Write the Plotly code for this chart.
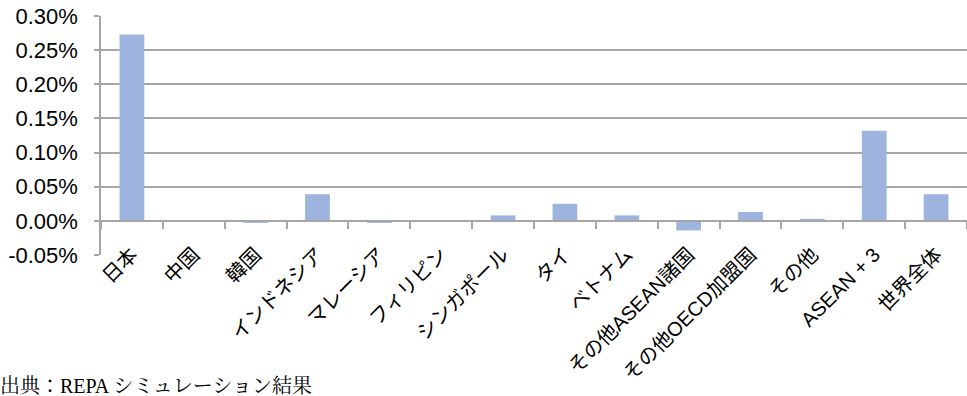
import plotly.graph_objects as go

categories = ["日本", "中国", "韓国", "インドネシア", "マレーシア", "フィリピン", "シンガポール",
              "タイ", "ベトナム", "その他ASEAN諸国", "その他OECD加盟国", "その他", "ASEAN + 3", "世界全体"]
values = [0.273, 0.0, -0.003, 0.039, -0.003, 0.0, 0.008,
          0.025, 0.008, -0.014, 0.013, 0.003, 0.132, 0.039]
y_tick_values = [-0.05, 0.0, 0.05, 0.10, 0.15, 0.20, 0.25, 0.30]
y_tick_labels = ["-0.05%", "0.00%", "0.05%", "0.10%", "0.15%", "0.20%", "0.25%", "0.30%"]
source_note = "出典：REPA シミュレーション結果"

W, H = 967, 396
ML, MR, MT, MB = 101, 0, 16, 141
plot_h = H - MT - MB
y_min, y_max = y_tick_values[0], y_tick_values[-1]
zero_frac = (0 - y_min) / (y_max - y_min)
label_lift = 17 / plot_h

grid = "#a6a6a6"
bar_color = "#9db5de"

fig = go.Figure()
fig.add_trace(go.Bar(x=categories, y=values, marker=dict(color=bar_color, line=dict(width=0)),
                     width=0.4, hoverinfo="x+y"))
# invisible trace to carry the zero-crossing category axis
fig.add_trace(go.Bar(x=categories, y=[0] * len(categories), xaxis="x2", yaxis="y",
                     marker=dict(color="rgba(0,0,0,0)"), hoverinfo="skip", showlegend=False))

fig.update_layout(
    width=W, height=H,
    margin=dict(l=ML, r=MR, t=MT, b=MB, pad=0),
    paper_bgcolor="white", plot_bgcolor="white",
    showlegend=False, barmode="overlay",
    font=dict(family="Liberation Sans, Noto Sans CJK JP", color="black"),
    xaxis=dict(
        type="category", range=[-0.5, len(categories) - 0.5],
        anchor="free", position=label_lift,
        tickangle=-45, tickfont=dict(size=20, family="Liberation Sans, Noto Sans CJK JP"),
        showgrid=False, showline=False, ticks="", automargin=False,
    ),
    xaxis2=dict(
        type="category", overlaying="x", anchor="free", position=zero_frac, side="bottom",
        range=[-0.5, len(categories) - 0.5], matches="x",
        showticklabels=False, showgrid=False, showline=True, linecolor=grid, linewidth=1.5,
        ticks="outside", tickson="boundaries", ticklen=7, tickcolor=grid, tickwidth=1.5,
    ),
    yaxis=dict(
        range=[y_min, y_max], tickmode="array", tickvals=y_tick_values, ticktext=y_tick_labels,
        tickfont=dict(size=22, family="Liberation Sans"), ticklabelstandoff=12,
        showgrid=True, gridcolor=grid, gridwidth=1.5,
        zeroline=False, showline=True, linecolor=grid, linewidth=1.5,
        ticks="outside", ticklen=5, tickcolor=grid, tickwidth=1.5, automargin=False,
    ),
    annotations=[dict(
        text=source_note, xref="paper", yref="paper",
        x=-(ML + 2) / (W - ML - MR), y=-(MB + 3) / plot_h,
        xanchor="left", yanchor="bottom", showarrow=False,
        font=dict(size=20, family="Liberation Serif, Noto Serif CJK JP, Noto Sans CJK JP"),
    )],
)

fig.write_html("out.html")
